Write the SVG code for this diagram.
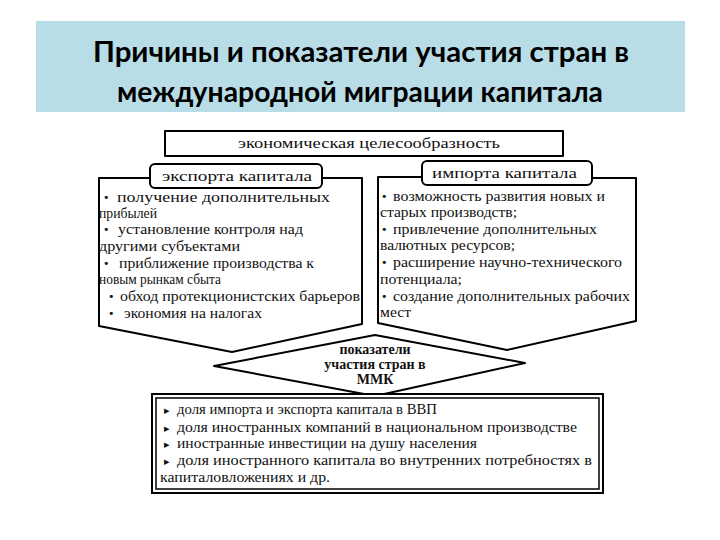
<svg xmlns="http://www.w3.org/2000/svg" width="720" height="540" viewBox="0 0 720 540">
<style>
.title{font-family:"Lato","Noto Sans",sans-serif;font-weight:bold;font-size:29px;fill:#000;text-anchor:middle}
.t{font-family:"Liberation Serif","DejaVu Serif",serif;font-size:15px;fill:#111}
.h{font-family:"Liberation Serif","DejaVu Serif",serif;font-size:15px;fill:#111}
.d{font-family:"Liberation Serif","DejaVu Serif",serif;font-size:14px;font-weight:bold;fill:#111;text-anchor:middle}
.b{font-family:"DejaVu Sans",sans-serif;font-size:11px;fill:#111}
.ln{fill:#fff;stroke:#000;stroke-width:2;stroke-linejoin:round}
</style>
<rect width="720" height="540" fill="#fff"/>
<g id="title">
<rect x="36" y="21" width="649" height="91" fill="#b8dde6"/>
<text class="title" x="361" y="62" textLength="536" lengthAdjust="spacingAndGlyphs">Причины и показатели участия стран в</text>
<text class="title" x="360" y="102" textLength="486" lengthAdjust="spacingAndGlyphs">международной миграции капитала</text>
</g>
<g id="goal">
<rect class="ln" x="165" y="131" width="398" height="25"/>
<text class="h" x="238" y="148" textLength="262" lengthAdjust="spacingAndGlyphs">экономическая целесообразность</text>
</g>
<g id="export">
<path class="ln" d="M150,178 H99 V326 L232,352 L362,324 V178 H322"/>
<rect class="ln" x="150" y="164" width="172" height="24" rx="5"/>
<text class="h" x="162" y="181" textLength="150" lengthAdjust="spacingAndGlyphs">экспорта капитала</text>
<text class="b" x="103" y="201">•</text>
<text class="t" x="117" y="202" textLength="213" lengthAdjust="spacingAndGlyphs">получение дополнительных</text>
<text class="t" x="99" y="218" textLength="58" lengthAdjust="spacingAndGlyphs">прибылей</text>
<text class="b" x="103" y="233">•</text>
<text class="t" x="118" y="234" textLength="185" lengthAdjust="spacingAndGlyphs">установление контроля над</text>
<text class="t" x="99" y="251" textLength="141" lengthAdjust="spacingAndGlyphs">другими субъектами</text>
<text class="b" x="103" y="267">•</text>
<text class="t" x="119" y="268" textLength="195" lengthAdjust="spacingAndGlyphs">приближение производства к</text>
<text class="t" x="99" y="284" textLength="122" lengthAdjust="spacingAndGlyphs">новым рынкам сбыта</text>
<text class="b" x="108" y="300">•</text>
<text class="t" x="120" y="301" textLength="240" lengthAdjust="spacingAndGlyphs">обход протекционистских барьеров</text>
<text class="b" x="108" y="317">•</text>
<text class="t" x="124" y="318" textLength="138" lengthAdjust="spacingAndGlyphs">экономия на налогах</text>
</g>
<g id="import">
<path class="ln" d="M422,177 H378 V323 L507,350 L636,321 V178 H592"/>
<rect class="ln" x="422" y="161" width="170" height="24" rx="5"/>
<text class="h" x="432" y="178" textLength="145" lengthAdjust="spacingAndGlyphs">импорта капитала</text>
<text class="b" x="381" y="200">•</text>
<text class="t" x="393" y="201" textLength="212" lengthAdjust="spacingAndGlyphs">возможность развития новых и</text>
<text class="t" x="380" y="217" textLength="137" lengthAdjust="spacingAndGlyphs">старых производств;</text>
<text class="b" x="381" y="233">•</text>
<text class="t" x="393" y="234" textLength="204" lengthAdjust="spacingAndGlyphs">привлечение дополнительных</text>
<text class="t" x="380" y="250" textLength="135" lengthAdjust="spacingAndGlyphs">валютных ресурсов;</text>
<text class="b" x="381" y="266">•</text>
<text class="t" x="393" y="267" textLength="229" lengthAdjust="spacingAndGlyphs">расширение научно-технического</text>
<text class="t" x="380" y="284" textLength="82" lengthAdjust="spacingAndGlyphs">потенциала;</text>
<text class="b" x="381" y="300">•</text>
<text class="t" x="393" y="301" textLength="237" lengthAdjust="spacingAndGlyphs">создание дополнительных рабочих</text>
<text class="t" x="380" y="317" textLength="31" lengthAdjust="spacingAndGlyphs">мест</text>
</g>
<g id="indicators">
<polygon class="ln" points="375,335 525,363 375,396 214,366"/>
<text class="d" x="375" y="354">показатели</text>
<text class="d" x="375" y="369">участия стран в</text>
<text class="d" x="375" y="384">ММК</text>
</g>
<g id="list">
<rect x="152" y="394" width="451" height="99" fill="#fff" stroke="#000" stroke-width="2"/>
<rect x="156" y="398" width="443" height="91" fill="none" stroke="#000" stroke-width="1.5"/>
<text class="b" x="164" y="414">▸</text>
<text class="t" x="177" y="414" textLength="260" lengthAdjust="spacingAndGlyphs">доля импорта и экспорта капитала в ВВП</text>
<text class="b" x="164" y="432">▸</text>
<text class="t" x="177" y="432" textLength="400" lengthAdjust="spacingAndGlyphs">доля иностранных компаний в национальном производстве</text>
<text class="b" x="164" y="448">▸</text>
<text class="t" x="177" y="448" textLength="300" lengthAdjust="spacingAndGlyphs">иностранные инвестиции на душу населения</text>
<text class="b" x="164" y="465">▸</text>
<text class="t" x="177" y="465" textLength="415" lengthAdjust="spacingAndGlyphs">доля иностранного капитала во внутренних потребностях в</text>
<text class="t" x="160" y="482" textLength="170" lengthAdjust="spacingAndGlyphs">капиталовложениях и др.</text>
</g>
</svg>
